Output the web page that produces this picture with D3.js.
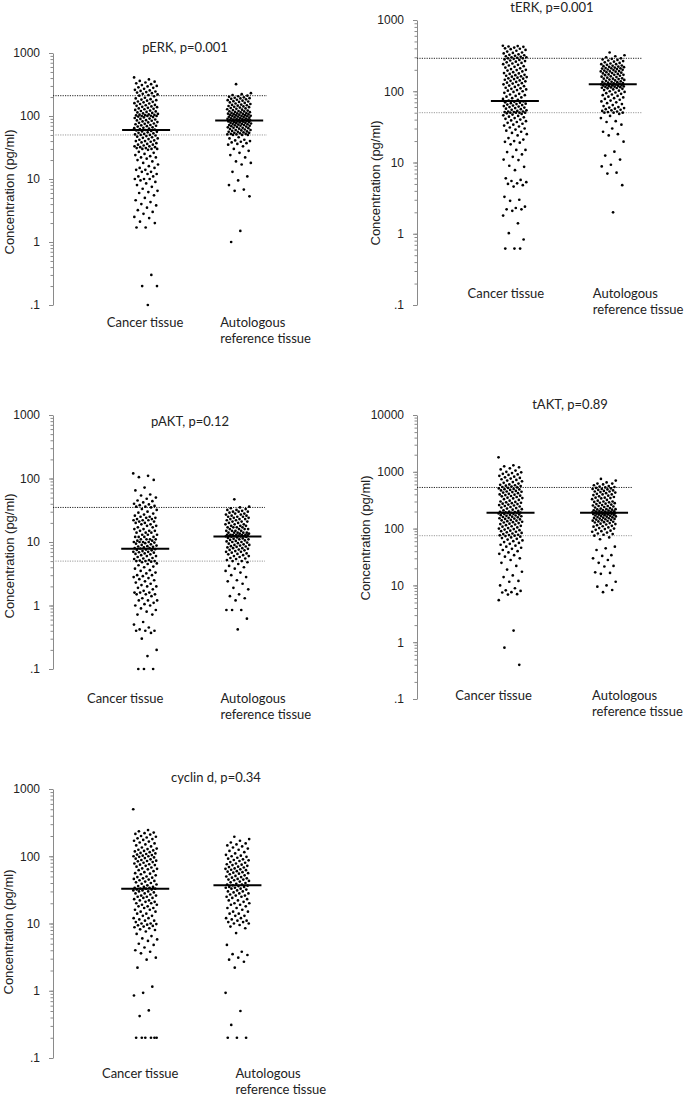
<!DOCTYPE html>
<html>
<head>
<meta charset="utf-8">
<script src="https://cdn.jsdelivr.net/npm/d3@7"></script>
<style>
  body { margin: 0; background: #fff; }
  .tick-label { font-family: "Liberation Sans", Arial, sans-serif; font-size: 12px; fill: #222; }
  .y-title { font-family: "Liberation Sans", Arial, sans-serif; font-size: 13px; fill: #222; }
  .cat-label, .panel-title { font-family: Lato, "Open Sans", sans-serif; font-size: 13px; fill: #222; }
</style>
</head>
<body>
<div id="chart"></div>
<script>
// ---- data ----
const groups = ["Cancer tissue", "Autologous reference tissue"];
const markers = ["pERK", "tERK", "pAKT", "tAKT", "cyclin d"];
const pValues = ["0.001", "0.001", "0.12", "0.89", "0.34"];
const yMax = [1000, 1000, 1000, 10000, 1000];
const decades = [0.1, 1, 10, 100, 1000, 10000];
const decadeLabels = [".1", "1", "10", "100", "1000", "10000"];
const medianCancer = [60, 73, 7.8, 190, 33];
const medianAuto = [85, 125, 12.2, 190, 37];
const refUpper = [210, 290, 35, 530, null];
const refLower = [50, 50, 5, 75, null];

const pERK_cancer = [410,380,360,350,340,330,320,310,300,295,285,280,270,260,255,250,245,240,235,230,225,220,215,210,205,
  195,190,185,182,178,175,170,168,165,160,158,155,150,148,145,142,140,138,135,132,130,128,125,122,120,118,116,114,112,110,108,106,105,104,103,102,101,100,100,100,
  98,96,95,93,91,90,88,86,85,84,82,80,79,78,76,75,74,72,71,70,69,68,66,65,64,63,62,61,60,59,58,57,56,55,54,53,52,51,50,50,
  49,48,47,46,45,44,43,42,41,40,40,39,38,37,36,35,35,34,33,33,32,32,31,31,30,30,30,29,
  27,26,25,24,23,22,22,21,20,19,18,17,16,15,15,14,14,13,13,12,12,11,11,10,10,10,
  9.5,9,8.5,8,7.5,7,6.5,6.2,6,5.5,5,4.6,4.3,4,3.8,3.5,3.2,3,
  2.8,2.5,2.4,2.1,2,1.7,1.7,0.3,0.2,0.2,0.1];
const pERK_auto = [320,230,222,215,210,206,202,198,195,192,190,187,184,181,178,175,172,170,167,164,161,158,155,152,150,148,146,144,142,140,
  138,136,134,132,130,128,126,124,122,120,119,118,116,115,114,112,111,110,109,108,107,106,105,104,103,102,101,100,100,99,98,97,96,95,94,93,92,91,90,90,89,88,88,87,86,86,85,85,
  84,84,83,82,82,81,80,80,79,78,78,77,76,75,75,74,73,72,72,71,70,70,69,68,67,66,65,65,64,63,62,61,60,60,59,58,57,56,56,55,54,54,53,52,52,51,51,50,50,50,
  46,44,42,41,40,39,38,37,36,35,33,30,28,26,24,22,19,18,17,13,11,9.5,8,6.8,6.5,5.3,1.5,1.0];

const tERK_cancer = [435,430,425,420,410,400,395,390,380,370,360,350,345,340,330,325,320,315,310,305,300,300,295,290,290,
  285,280,275,270,265,260,255,250,245,240,235,230,225,220,215,210,205,200,198,195,190,185,180,178,175,170,168,165,162,160,158,155,152,150,148,145,142,140,138,135,132,130,128,125,122,120,118,115,112,110,108,106,104,102,100,
  98,95,92,90,88,86,84,82,80,78,76,74,
  72,71,70,69,68,67,66,65,64,63,62,61,60,59,58,57,56,55,54,53,52,52,51,51,50,50,50,50,
  49,48,47,46,45,44,43,42,41,40,39,38,37,36,35,34,33,32,31,30,29,28,27,26,25,24,22,21,
  20,19.5,19,18,15,15,14,13,12,11,10.8,9,8.7,7.8,6,5.7,5.5,5.3,5.1,5,4.8,4.6,3.3,3,2.9,2.4,2.3,2.2,2.2,2.1,1.8,1.4,1.02,0.83,0.62,0.62,0.62];
const tERK_auto = [350,320,310,300,290,285,280,275,270,265,260,255,250,245,240,240,235,230,228,225,222,220,218,215,212,210,210,208,205,202,200,198,195,192,190,190,188,185,182,180,178,175,172,170,170,168,165,162,160,158,155,152,150,150,148,146,144,142,140,138,136,135,134,132,130,129,128,127,126,125,
  124,123,122,121,120,119,118,117,116,115,114,113,112,111,110,108,106,104,102,100,98,96,94,92,90,88,86,84,82,80,78,76,74,72,70,68,66,64,62,60,59,58,57,56,55,54,53,52,51,50,50,50,
  48,45,42,38,37,34,30,27,25,24,19.6,14.2,12.5,11,9.3,8.8,7.2,7,4.8,2.0];

const pAKT_cancer = [120,110,105,95,72,65,56,54,50,48,45,44,42,40,39,38,37,36,36,35,
  33,32,30,29,28,27,26,25,25,24,24,23,23,22,22,22,21,21,20,20,19,19,18,18,17,17,16,16,15,15,15,14,14,14,13,13,13,12,12,12,12,11,11,11,11,10.5,10.5,10,10,10,10,9.8,
  9.6,9.4,9.2,9,8.8,8.6,8.5,8.4,8.2,8,8,7.9,
  7.7,7.6,7.5,7.4,7.2,7,7,6.9,6.8,6.6,6.5,6.4,6.2,6,6,5.8,5.6,5.5,5.4,5.2,5.1,5,5,5,4.9,
  4.8,4.6,4.5,4.3,4.1,4,3.8,3.6,3.5,3.3,3.2,3,3,2.9,2.8,2.7,2.6,2.5,2.4,2.3,2.2,2.1,2,2,1.9,1.8,1.7,1.6,1.6,1.6,1.5,1.5,1.5,1.4,1.3,1.2,1.2,1.2,1.1,1.05,1,1,0.9,
  0.85,0.8,0.72,0.72,0.55,0.5,0.45,0.42,0.4,0.4,0.4,0.37,0.3,0.2,0.16,0.1,0.1,0.1];
const pAKT_auto = [47,36,35,34,33,32,32,31,30,30,30,29,28,28,27,27,26,26,25,25,25,24,24,23,23,23,22,22,21,21,21,20,20,19,19,19,18,18,18,17,17,17,17,16,16,16,16,15,15,15,15,14,14,14,14,14,13.5,13.5,13,13,13,13,12.9,12.8,12.7,12.6,12.5,12.4,12.4,12.3,12.3,
  12.1,12,11.8,11.6,11.4,11.2,11,11,10.8,10.6,10.4,10.2,10,10,9.8,9.6,9.4,9.2,9,9,8.8,8.6,8.5,8.4,8.2,8,8,7.8,7.6,7.5,7.4,7.2,7,7,6.8,6.6,6.5,6.4,6.2,6,6,5.8,5.6,5.5,5.4,5.2,5,5,4.8,
  4.5,4.2,4,3.8,3.5,3.3,3,2.8,2.5,2.4,2.2,1.9,1.8,1.5,1.4,1.3,1.2,0.85,0.85,0.85,0.62,0.42];

const tAKT_cancer = [1800,1300,1250,1200,1150,1100,1050,1000,980,950,920,900,880,850,820,800,780,760,740,720,700,680,660,640,620,600,590,580,570,560,550,540,530,
  520,510,500,495,490,480,470,460,450,445,440,430,420,410,400,395,390,380,375,370,360,350,345,340,330,320,310,300,295,290,285,280,275,270,265,260,255,250,245,240,235,230,225,220,215,210,205,200,198,196,194,192,190,190,190,
  188,185,182,180,178,175,172,170,168,165,162,160,158,155,152,150,148,145,142,140,138,135,132,130,128,125,122,120,118,115,112,110,108,105,102,100,98,96,94,92,90,88,86,84,82,80,78,77,76,75,
  74,72,70,68,66,64,62,60,58,56,54,52,50,48,46,44,42,40,38,36,34,32,30,
  28,25,22,19,17.4,15,14,12,11.6,10,8.9,8.2,8,7.6,7.5,7,6.9,5.5,1.6,0.8,0.4];
const tAKT_auto = [750,700,650,620,620,600,580,560,550,540,530,520,510,500,500,490,480,470,460,450,450,440,430,420,410,400,400,390,380,370,360,350,350,345,340,330,320,310,300,300,295,290,285,280,275,270,265,260,255,250,250,245,240,235,230,225,220,220,218,215,212,210,208,205,202,200,200,198,196,194,192,191,190,
  189,188,187,186,185,184,183,182,181,180,178,176,174,172,170,168,166,164,162,160,158,156,154,152,150,148,146,144,142,140,138,136,134,132,130,128,125,122,120,118,115,112,110,108,105,102,100,98,95,92,90,88,85,82,80,78,75,
  70,65,48,45,42,34,33,30,28,25,22,21.5,17,16.6,16,11.6,10,9.5,8.3,7.6];

const cyclin_cancer = [500,245,235,225,220,215,210,200,195,190,185,180,175,170,165,160,155,150,145,140,135,130,128,125,122,120,118,115,112,110,108,106,104,102,100,100,
  98,96,94,92,90,88,86,85,84,82,80,78,76,75,74,72,70,68,66,65,64,62,60,58,56,55,54,52,50,49,48,47,46,45,44,43,42,41,40,39,38,37,36,35,35,34,34,33,33,33,
  32,32,31,31,30,30,29,28,28,27,26,26,25,25,24,24,23,22,22,21,21,20,20,19,19,18,18,17,17,16,16,15,15,14,14,13,13,12,12,11.5,11,11,10.5,10,10,9.8,9.6,9.4,9.2,9,8.8,8.5,8.2,8,
  7.6,7,6.5,6,5.8,5.5,5,4.8,4.4,4,3.8,3.6,3.1,2.9,2.2,1.15,0.93,0.85,0.51,0.42,0.2,0.2,0.2,0.2,0.2,0.2];
const cyclin_auto = [195,180,170,160,155,150,145,140,135,130,125,120,115,110,105,102,100,98,95,92,90,88,87,85,82,80,78,76,75,74,72,70,69,68,66,65,64,63,62,60,59,58,57,56,55,54,52,51,50,49,48,47,46,45,45,44,43,42,41,40,39,38,38,37,
  36.5,36,35,35,34,34,33,33,32,31,30,30,29,28,28,27,26,26,25,25,24,23,22,22,21,20,20,19,19,18,17,17,16,15,15,14,14,13,13,12,12,11.5,11,11,10.5,10.5,10,10,9.5,9,
  8.5,7.2,4.8,3.8,3.5,3.4,3.1,2.9,2.7,2.2,0.93,0.5,0.31,0.2,0.2,0.2];

const series = [
  [pERK_cancer, pERK_auto],
  [tERK_cancer, tERK_auto],
  [pAKT_cancer, pAKT_auto],
  [tAKT_cancer, tAKT_auto],
  [cyclin_cancer, cyclin_auto]
];

// ---- layout of the five panels (pixels) ----
const layout = [
  { ax: 53,  top: 53,  bottom: 305,  w: 214, titleX: 185, titleY: 47,  yTitleX: 9.5, yTitleY: 192, catY: 322,  catDx: [-1, -19] },
  { ax: 417, top: 20,  bottom: 305,  w: 225, titleX: 552, titleY: 7,   yTitleX: 375, yTitleY: 183, catY: 293,  catDx: [-9, -20] },
  { ax: 53,  top: 415, bottom: 669,  w: 212, titleX: 190, titleY: 421, yTitleX: 9.5, yTitleY: 556, catY: 698,  catDx: [-20, -17] },
  { ax: 417, top: 415, bottom: 699,  w: 215, titleX: 570, titleY: 404, yTitleX: 365, yTitleY: 538, catY: 695,  catDx: [-17, -12] },
  { ax: 53,  top: 789, bottom: 1058, w: 212, titleX: 216, titleY: 777, yTitleX: 8.5, yTitleY: 932, catY: 1073, catDx: [-5, -2] }
];
const JITTER = 12;
const MEDIAN_HALF = 24;
const LINE_GAP = 16;

const svg = d3.select("#chart")
  .append("svg")
    .attr("width", 685)
    .attr("height", 1096);

markers.forEach((m, i) => drawPanel(i));

function drawPanel(i) {
  const L = layout[i];
  const g = svg.append("g");

  const y = d3.scaleLog()
    .domain([0.1, yMax[i]])
    .range([L.bottom, L.top]);

  const x = d3.scalePoint()
    .domain(groups)
    .range([L.ax + 0.435 * L.w, L.ax + 0.87 * L.w]);

  // minor ticks
  const minor = g.append("g")
    .attr("transform", `translate(${L.ax},0)`)
    .call(d3.axisLeft(y).tickValues(y.ticks()).tickFormat("").tickSize(2.5).tickSizeOuter(0));
  minor.selectAll("line").attr("stroke", "#8a8a8a");
  minor.select(".domain").attr("stroke", "#8a8a8a");

  // major ticks with labels
  const majors = decades.filter(d => d <= yMax[i]);
  const major = g.append("g")
    .attr("transform", `translate(${L.ax},0)`)
    .call(d3.axisLeft(y)
      .tickValues(majors)
      .tickFormat(d => decadeLabels[decades.indexOf(d)])
      .tickSize(4)
      .tickPadding(9));
  major.select(".domain").remove();
  major.selectAll("line").attr("stroke", "#8a8a8a");
  major.selectAll("text")
    .attr("class", "tick-label")
    .attr("font-family", null)
    .attr("font-size", null)
    .attr("fill", null);

  // reference lines
  if (refUpper[i] != null) {
    g.append("line")
      .attr("x1", L.ax).attr("x2", L.ax + L.w)
      .attr("y1", y(refUpper[i])).attr("y2", y(refUpper[i]))
      .attr("stroke", "#222").attr("stroke-width", 1)
      .attr("stroke-dasharray", "1.2,1.2");
    g.append("line")
      .attr("x1", L.ax).attr("x2", L.ax + L.w)
      .attr("y1", y(refLower[i])).attr("y2", y(refLower[i]))
      .attr("stroke", "#9a9a9a").attr("stroke-width", 1)
      .attr("stroke-dasharray", "1.2,1.2");
  }

  // dots, jittered sideways with a golden-ratio sequence
  groups.forEach((grp, j) => {
    g.append("g")
      .selectAll("circle")
      .data(series[i][j])
      .enter()
      .append("circle")
        .attr("cx", (d, k) => x(grp) + (((k * 0.6180339887 + j * 0.37) % 1) - 0.5) * 2 * JITTER)
        .attr("cy", d => y(d))
        .attr("r", 1.35)
        .attr("fill", "#000");
  });

  // median bars
  const medians = [medianCancer[i], medianAuto[i]];
  groups.forEach((grp, j) => {
    g.append("line")
      .attr("x1", x(grp) - MEDIAN_HALF).attr("x2", x(grp) + MEDIAN_HALF)
      .attr("y1", y(medians[j])).attr("y2", y(medians[j]))
      .attr("stroke", "#000").attr("stroke-width", 2);
  });

  // title
  g.append("text")
    .attr("class", "panel-title")
    .attr("x", L.titleX).attr("y", L.titleY)
    .attr("dy", "0.35em")
    .attr("text-anchor", "middle")
    .text(`${markers[i]}, p=${pValues[i]}`);

  // y axis title
  g.append("text")
    .attr("class", "y-title")
    .attr("transform", `translate(${L.yTitleX},${L.yTitleY}) rotate(-90)`)
    .attr("dy", "0.35em")
    .attr("text-anchor", "middle")
    .text("Concentration (pg/ml)");

  // category labels
  g.append("text")
    .attr("class", "cat-label")
    .attr("x", x(groups[0]) + L.catDx[0]).attr("y", L.catY)
    .attr("dy", "0.35em")
    .attr("text-anchor", "middle")
    .text(groups[0]);

  const auto = g.append("text")
    .attr("class", "cat-label");
  ["Autologous", "reference tissue"].forEach((line, k) => {
    auto.append("tspan")
      .attr("x", x(groups[1]) + L.catDx[1])
      .attr("y", L.catY + k * LINE_GAP)
      .attr("dy", "0.35em")
      .text(line);
  });
}
</script>
</body>
</html>
